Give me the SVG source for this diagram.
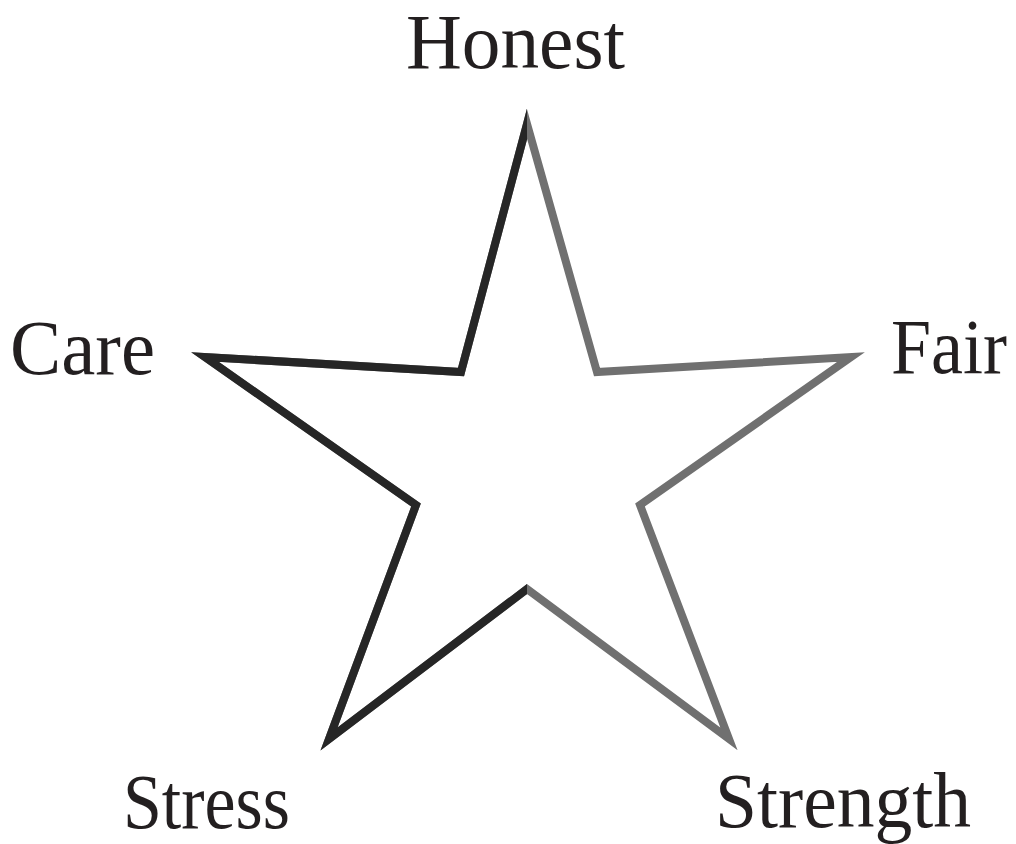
<svg xmlns="http://www.w3.org/2000/svg" width="1016" height="844" viewBox="0 0 1016 844">
<style>
.lbl{font-family:"Liberation Serif","Times New Roman",serif;font-size:78px;fill:#231f20}
.star{fill:none;stroke-width:8;stroke-linejoin:miter;stroke-miterlimit:20}
</style>
<defs>
<clipPath id="leftHalf"><rect x="0" y="0" width="527" height="844"/></clipPath>
<polygon id="starShape" points="527,124 461,372 205,357 416,505 329,739 527,589 729,739 640,505 851,357 597,372"/>
</defs>
<rect width="1016" height="844" fill="#ffffff"/>
<g id="star">
<use href="#starShape" class="star" stroke="#707070"/>
<use href="#starShape" class="star" stroke="#262626" clip-path="url(#leftHalf)"/>
</g>
<g id="honest"><text class="lbl" x="406" y="68" font-size="76" textLength="219" lengthAdjust="spacingAndGlyphs">Honest</text></g>
<g id="care"><text class="lbl" x="10" y="374" textLength="145" lengthAdjust="spacingAndGlyphs">Care</text></g>
<g id="fair"><text class="lbl" x="891" y="373" textLength="116" lengthAdjust="spacingAndGlyphs">Fair</text></g>
<g id="stress"><text class="lbl" x="123" y="828" textLength="167" lengthAdjust="spacingAndGlyphs">Stress</text></g>
<g id="strength"><text class="lbl" x="715" y="827" textLength="256" lengthAdjust="spacingAndGlyphs">Strength</text></g>
</svg>
